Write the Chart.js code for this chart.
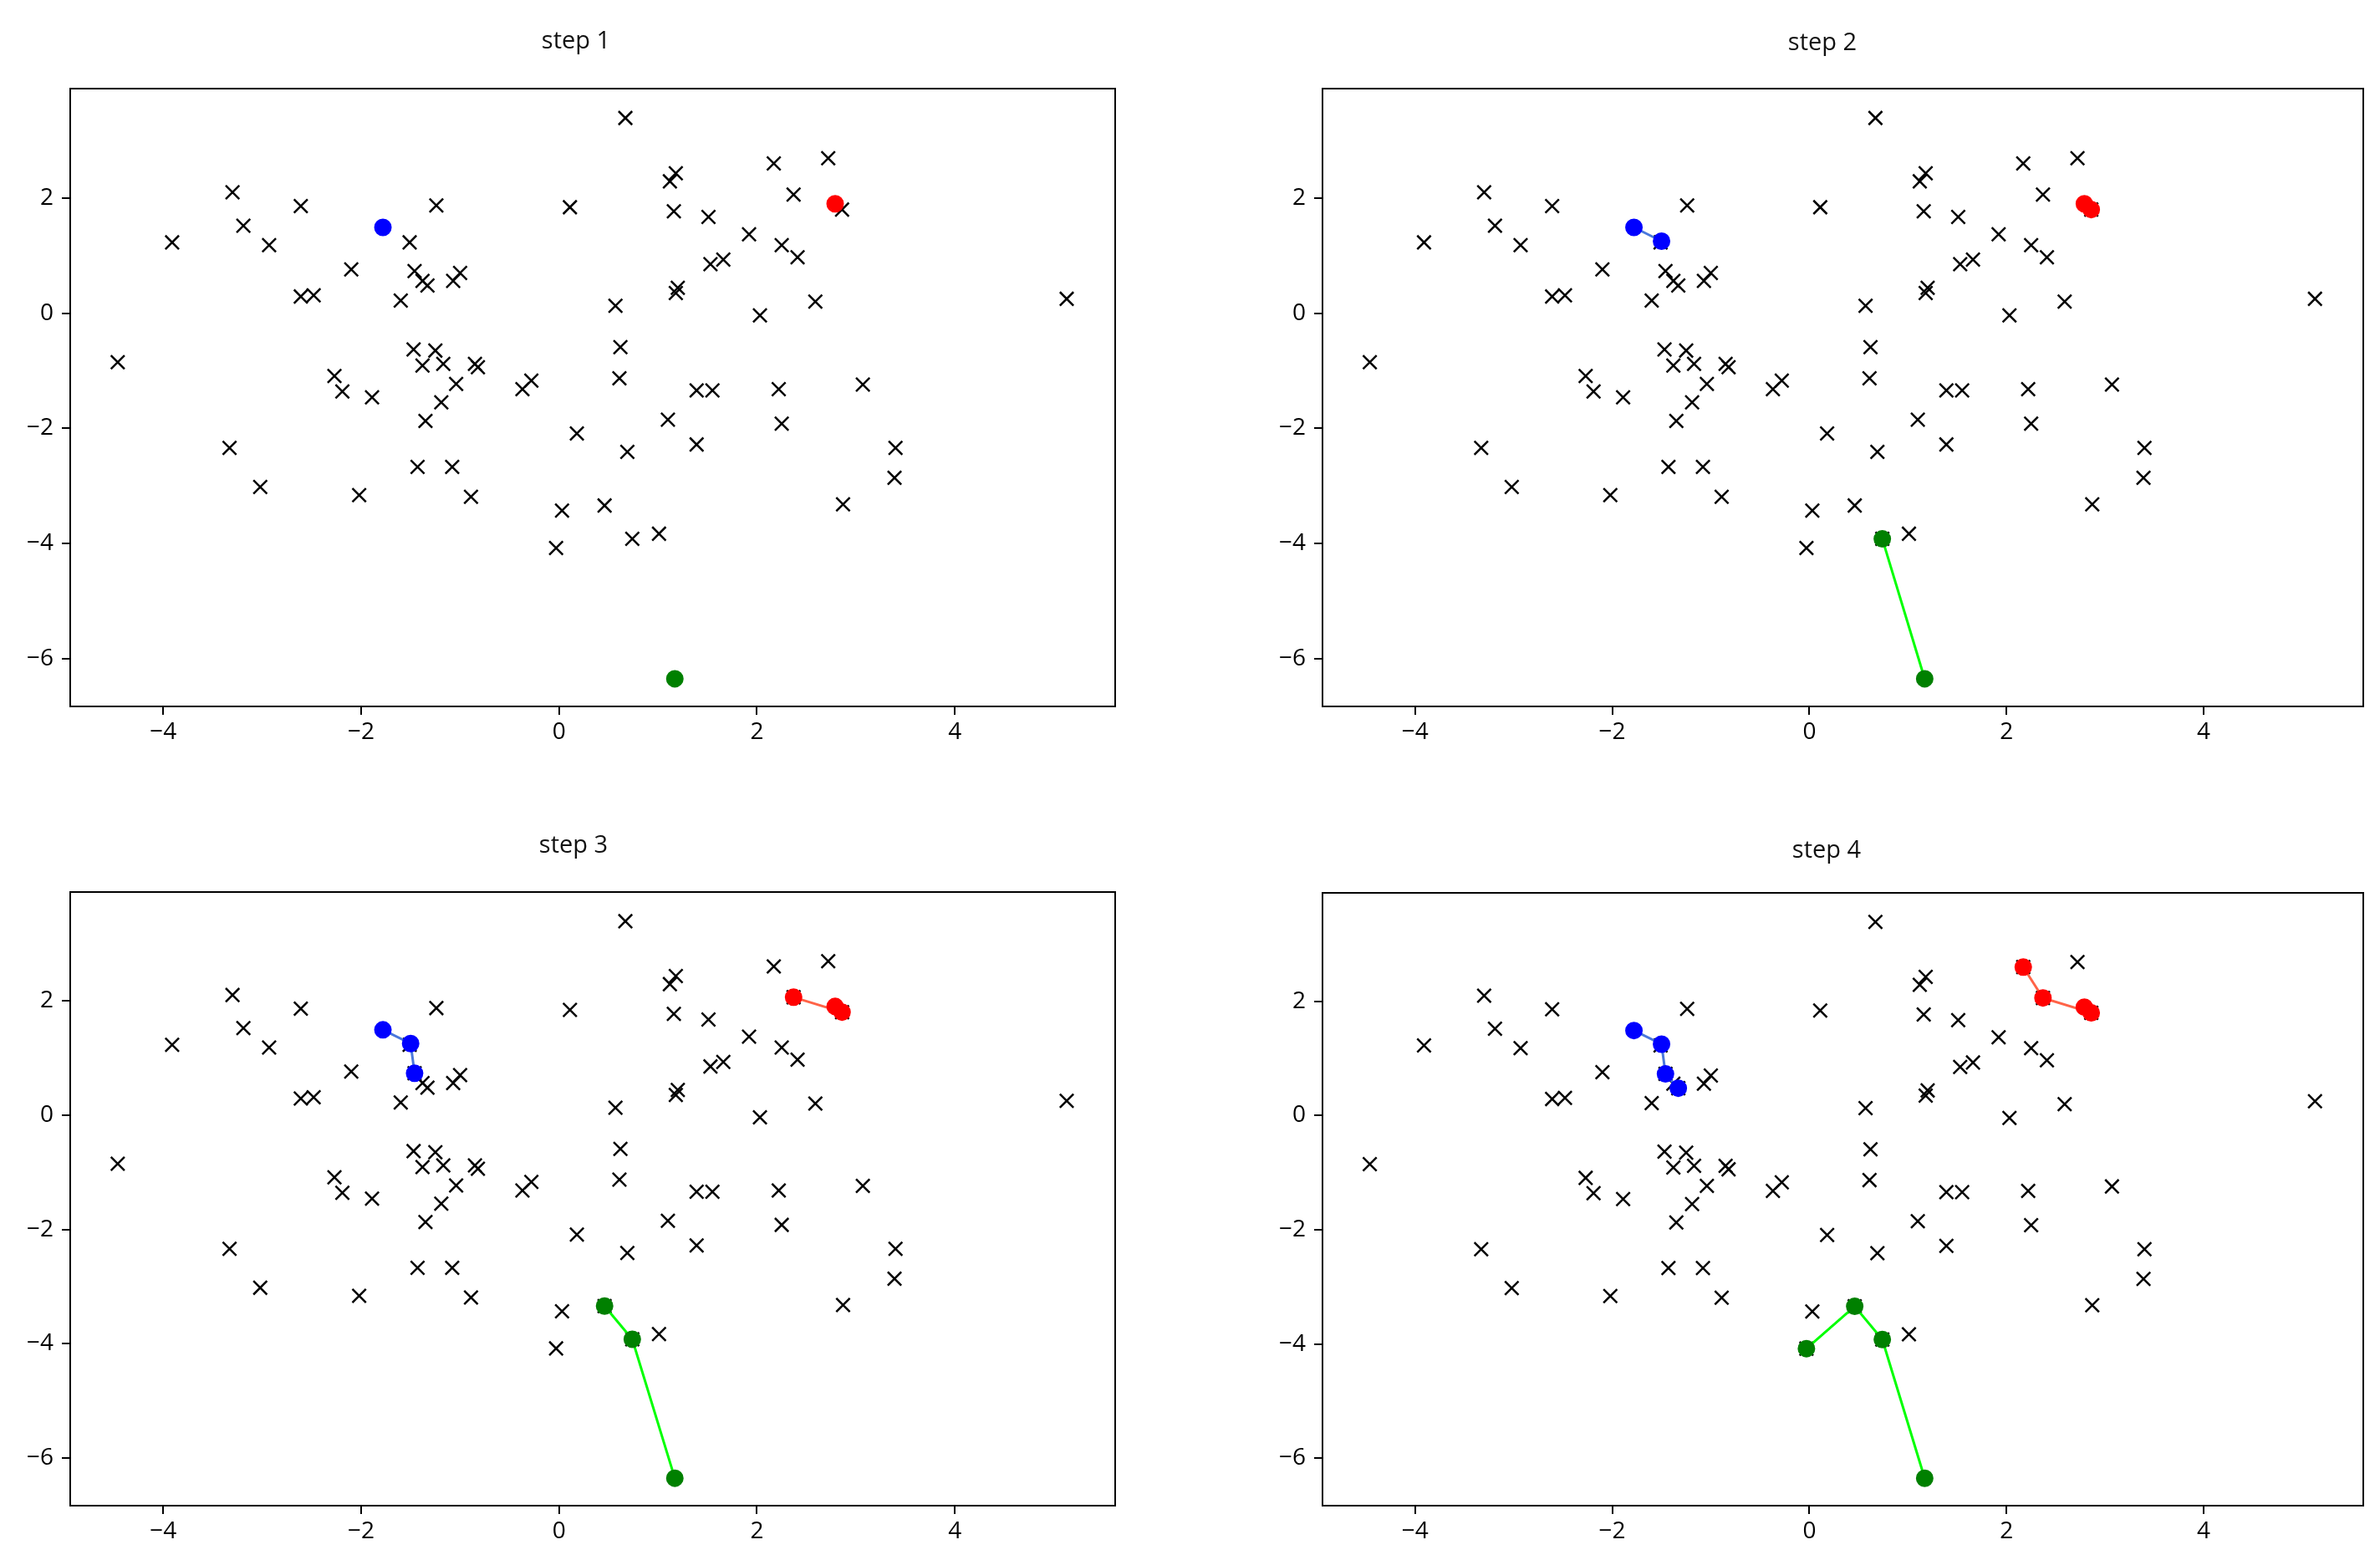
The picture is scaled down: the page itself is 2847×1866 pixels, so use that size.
<!DOCTYPE html>
<html lang="en">
<head>
<meta charset="UTF-8">
<title>steps</title>
<style>
  body { margin: 0; background: #fff; overflow: hidden; }
  #fig { position: relative; width: 2847px; height: 1866px; background: #fff; }
  #fig canvas { position: absolute; }
</style>
</head>
<body>
<div id="fig">
  <canvas id="c1"></canvas>
  <canvas id="c2"></canvas>
  <canvas id="c3"></canvas>
  <canvas id="c4"></canvas>
</div>

<script src="https://cdn.jsdelivr.net/npm/chart.js"></script>
<script>
// tick labels and panel titles
const xTicks = [-4, -2, 0, 2, 4];
const yTicks = [-6, -4, -2, 0, 2];
const stepTitles = ['step 1', 'step 2', 'step 3', 'step 4'];

// the scattered samples (black x)
const pointsX = [-3.30, -2.61, -1.24, 0.11, -3.19, -3.91, -2.93, -1.51, -2.10, -1.46,
                 -1.38, -1.33, -1.07, -1.00, -2.61, -2.48, -1.60, -4.46, -1.47, -1.25,
                 -1.38, -1.17, -0.85, -0.82, -2.27, -2.19, -1.89, -1.04, -1.19, -0.37,
                 -0.28, -1.35, 0.18, -3.33, -3.02, -2.02, -1.43, -1.08, -0.89, 0.03,
                 -0.03, 0.67, 2.17, 2.72, 1.18, 1.12, 2.37, 2.86, 1.16, 1.51,
                 1.92, 2.25, 2.41, 1.66, 1.53, 1.20, 1.18, 0.57, 2.03, 2.59,
                 5.13, 0.62, 0.61, 1.39, 1.55, 2.22, 3.07, 1.10, 2.25, 0.69,
                 1.39, 3.40, 3.39, 2.87, 0.46, 0.74, 1.01];
const pointsY = [2.10, 1.86, 1.87, 1.84, 1.52, 1.23, 1.18, 1.23, 0.76, 0.73,
                 0.56, 0.48, 0.56, 0.70, 0.29, 0.31, 0.22, -0.85, -0.63, -0.65,
                 -0.91, -0.88, -0.88, -0.94, -1.09, -1.36, -1.46, -1.23, -1.55, -1.32,
                 -1.17, -1.87, -2.09, -2.34, -3.02, -3.16, -2.67, -2.67, -3.19, -3.43,
                 -4.08, 3.39, 2.60, 2.69, 2.43, 2.29, 2.06, 1.80, 1.77, 1.67,
                 1.37, 1.18, 0.97, 0.93, 0.85, 0.44, 0.35, 0.13, -0.04, 0.20,
                 0.25, -0.59, -1.13, -1.34, -1.34, -1.32, -1.24, -1.85, -1.92, -2.41,
                 -2.28, -2.34, -2.86, -3.32, -3.34, -3.92, -3.83];

// centre positions after each step
const blueX = [-1.78, -1.50, -1.46, -1.33];
const blueY = [1.49, 1.25, 0.73, 0.48];
const redX = [2.79, 2.86, 2.37, 2.17];
const redY = [1.90, 1.80, 2.06, 2.60];
const greenX = [1.17, 0.74, 0.46, -0.03];
const greenY = [-6.35, -3.92, -3.34, -4.08];

const paths = [
  { xs: blueX, ys: blueY, line: '#4a78dc', dot: '#0000ff' },
  { xs: redX, ys: redY, line: '#ff6347', dot: '#ff0000' },
  { xs: greenX, ys: greenY, line: '#00ff00', dot: '#008000' }
];

// where each subplot sits on the page
const panels = [
  { id: 'c1', left: 84, right: 1334, top: 106, bottom: 845, titleX: 689, titleY: 50, canvasLeft: 0, canvasTop: 0 },
  { id: 'c2', left: 1582, right: 2827, top: 106, bottom: 845, titleX: 2180, titleY: 52, canvasLeft: 1430, canvasTop: 0 },
  { id: 'c3', left: 84, right: 1334, top: 1067, bottom: 1801, titleX: 686, titleY: 1012, canvasLeft: 0, canvasTop: 935 },
  { id: 'c4', left: 1582, right: 2827, top: 1068, bottom: 1801, titleX: 2185, titleY: 1018, canvasLeft: 1430, canvasTop: 935 }
];

Chart.defaults.font.family = "'Open Sans', 'Noto Sans', sans-serif";
Chart.defaults.color = '#000';

// axes box on all four sides
const framePlugin = {
  id: 'frame',
  afterDatasetsDraw(chart) {
    const a = chart.chartArea, ctx = chart.ctx;
    ctx.save();
    ctx.strokeStyle = '#000';
    ctx.lineWidth = 2;
    ctx.strokeRect(a.left, a.top, a.right - a.left, a.bottom - a.top);
    ctx.restore();
  }
};

// subplot title, placed where the reference has it
const stepTitle = {
  id: 'stepTitle',
  afterDraw(chart, args, opts) {
    const ctx = chart.ctx;
    ctx.save();
    ctx.fillStyle = '#111';
    ctx.font = "29px 'Open Sans', 'Noto Sans', sans-serif";
    ctx.textAlign = 'center';
    ctx.textBaseline = 'middle';
    ctx.fillText(opts.text, opts.x, opts.y);
    ctx.restore();
  }
};

const minusFmt = v => v < 0 ? '\u2212' + Math.abs(v) : String(v);
const xAxisH = 60, padRight = 20, padLeft = 4;

panels.forEach((p, i) => {
  const step = i + 1;
  const canvas = document.getElementById(p.id);
  const yAxisW = p.left - p.canvasLeft - padLeft;
  const W = p.right + padRight - p.canvasLeft;
  const H = p.bottom + xAxisH - p.canvasTop;
  canvas.width = W; canvas.height = H;
  canvas.style.left = p.canvasLeft + 'px';
  canvas.style.top = p.canvasTop + 'px';
  canvas.style.width = W + 'px';
  canvas.style.height = H + 'px';

  const datasets = paths.map((c, k) => ({
    data: c.xs.slice(0, step).map((x, j) => ({ x: x, y: c.ys[j] })),
    showLine: true,
    borderColor: c.line,
    borderWidth: 3,
    pointRadius: 9.5,
    pointBorderWidth: 2,
    pointBackgroundColor: c.dot,
    pointBorderColor: c.dot,
    order: k
  }));
  datasets.push({
    data: pointsX.map((x, j) => ({ x: x, y: pointsY[j] })),
    pointStyle: 'crossRot',
    pointRadius: 11.5,
    pointBorderWidth: 2.5,
    pointBorderColor: '#000',
    showLine: false,
    order: 10
  });

  new Chart(canvas.getContext('2d'), {
    type: 'scatter',
    data: { datasets: datasets },
    plugins: [framePlugin, stepTitle],
    options: {
      responsive: false,
      animation: false,
      devicePixelRatio: 1,
      layout: { padding: { left: padLeft, right: padRight, top: p.top - p.canvasTop, bottom: 0 } },
      plugins: {
        legend: { display: false },
        tooltip: { enabled: false },
        title: { display: false },
        stepTitle: { text: stepTitles[i], x: p.titleX - p.canvasLeft, y: p.titleY - p.canvasTop }
      },
      scales: {
        x: {
          type: 'linear', min: -4.94, max: 5.62,
          afterBuildTicks: s => { s.ticks = xTicks.map(v => ({ value: v })); },
          afterFit: s => { s.height = xAxisH; },
          grid: { drawOnChartArea: false, drawTicks: true, tickLength: 10, color: '#000', lineWidth: 2 },
          border: { display: false },
          ticks: { font: { size: 28 }, padding: 4, autoSkip: false, maxRotation: 0, callback: minusFmt }
        },
        y: {
          type: 'linear', min: -6.83, max: 3.90,
          afterBuildTicks: s => { s.ticks = yTicks.map(v => ({ value: v })); },
          afterFit: s => { s.width = yAxisW; },
          grid: { drawOnChartArea: false, drawTicks: true, tickLength: 10, color: '#000', lineWidth: 2 },
          border: { display: false },
          ticks: { font: { size: 28 }, padding: 10, autoSkip: false, callback: minusFmt }
        }
      }
    }
  });
});
</script>
</body>
</html>
